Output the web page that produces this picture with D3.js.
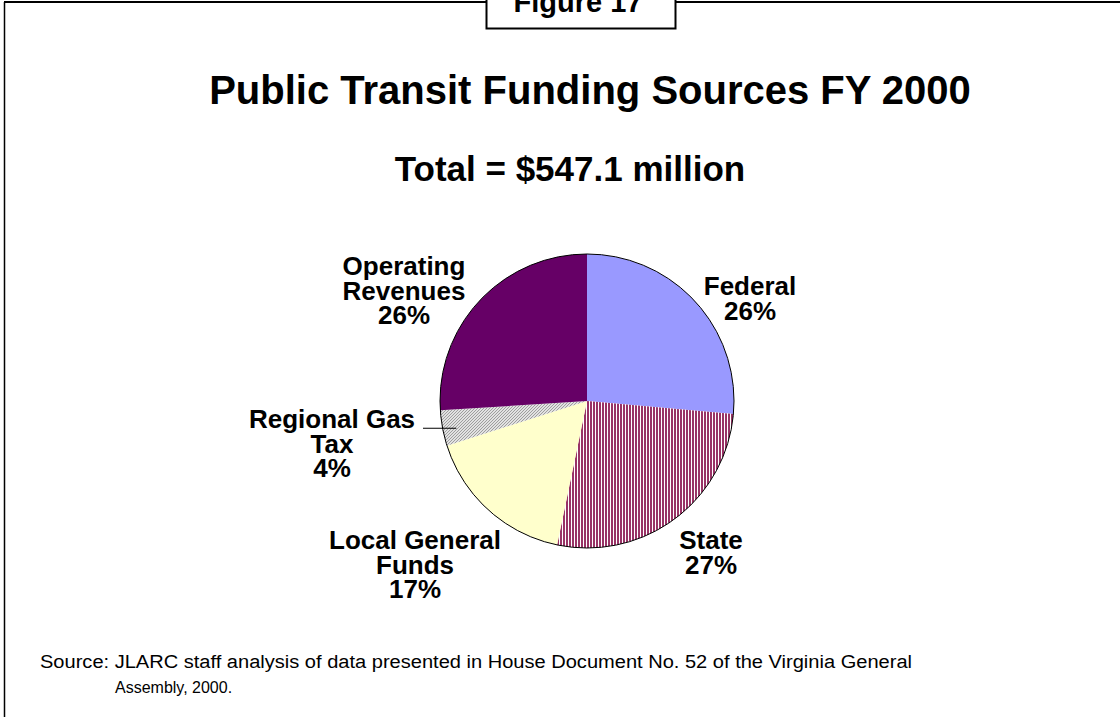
<!DOCTYPE html>
<html>
<head>
<meta charset="utf-8">
<script src="https://cdn.jsdelivr.net/npm/d3@7"></script>
<style>
  html, body { margin: 0; padding: 0; background: #fff; }
  svg { display: block; font-family: "Liberation Sans", Arial, sans-serif; }
</style>
</head>
<body>
<div id="chart"></div>
<script>
// ---------------------------
// DATA ($ millions)
// ---------------------------
const categories = ["Federal", "State", "Local General Funds", "Regional Gas Tax", "Operating Revenues"];
const amounts = [144.5, 146.9, 92.0, 21.4, 142.3];
const labelLines = [["Federal"], ["State"], ["Local General", "Funds"], ["Regional Gas", "Tax"], ["Operating", "Revenues"]];
const fills = ["#9999ff", "url(#stripe-state)", "#ffffcc", "url(#hatch-gas)", "#660066"];

// label anchor (centre x, first baseline y) - layout only
const labelAnchor = {
  "Federal": [750, 295],
  "State": [711, 549],
  "Local General Funds": [415, 549],
  "Regional Gas Tax": [332, 428],
  "Operating Revenues": [404, 275]
};

const width = 1120, height = 717;
const cx = 587, cy = 401, radius = 147;
const lineH = 24.5;

const svg = d3.select("#chart").append("svg")
  .attr("width", width)
  .attr("height", height);

// ---------------------------
// PATTERNS
// ---------------------------
const defs = svg.append("defs");

const stripe = defs.append("pattern")
  .attr("id", "stripe-state")
  .attr("patternUnits", "userSpaceOnUse")
  .attr("width", 3).attr("height", 3);
stripe.append("rect").attr("width", 3).attr("height", 3).attr("fill", "#fff");
stripe.append("rect").attr("width", 2).attr("height", 3).attr("fill", "#993366");

const hatch = defs.append("pattern")
  .attr("id", "hatch-gas")
  .attr("patternUnits", "userSpaceOnUse")
  .attr("width", 3).attr("height", 3);
hatch.append("rect").attr("width", 3).attr("height", 3).attr("fill", "#fff");
hatch.append("path").attr("d", "M0,3 L3,0 M-1,1 L1,-1 M2,4 L4,2")
  .attr("stroke", "#999").attr("stroke-width", 1.1);

// ---------------------------
// FRAME + FIGURE TAB
// ---------------------------
svg.append("line")
  .attr("x1", 4).attr("x2", width).attr("y1", 2).attr("y2", 2)
  .attr("stroke", "#000").attr("stroke-width", 2);
svg.append("line")
  .attr("x1", 4.5).attr("x2", 4.5).attr("y1", 2).attr("y2", height)
  .attr("stroke", "#000").attr("stroke-width", 1.5);

svg.append("rect")
  .attr("x", 486.5).attr("y", -10).attr("width", 189).attr("height", 38.5)
  .attr("fill", "#fff").attr("stroke", "#000").attr("stroke-width", 2);
svg.append("text")
  .attr("x", 578).attr("y", 12)
  .attr("text-anchor", "middle")
  .style("font-size", "29px").style("font-weight", "bold")
  .text("Figure 17");

// ---------------------------
// TITLES
// ---------------------------
svg.append("text")
  .attr("x", 590).attr("y", 104)
  .attr("text-anchor", "middle")
  .style("font-size", "40px").style("font-weight", "bold")
  .text("Public Transit Funding Sources FY 2000");

svg.append("text")
  .attr("x", 570).attr("y", 181)
  .attr("text-anchor", "middle")
  .style("font-size", "35px").style("font-weight", "bold")
  .text("Total = $547.1 million");

// ---------------------------
// PIE
// ---------------------------
const data = categories.map((c, i) => ({ category: c, amount: amounts[i], lines: labelLines[i], fill: fills[i] }));
const total = d3.sum(amounts);

const pie = d3.pie().sort(null).value(d => d.amount);
const arc = d3.arc().innerRadius(0).outerRadius(radius);

const g = svg.append("g").attr("transform", `translate(${cx},${cy})`);

g.selectAll("path.slice")
  .data(pie(data))
  .join("path")
  .attr("class", "slice")
  .attr("d", arc)
  .attr("fill", d => d.data.fill);

g.append("circle")
  .attr("r", radius)
  .attr("fill", "none")
  .attr("stroke", "#000")
  .attr("stroke-width", 1);

// leader line for the small slice
const gasArc = pie(data).find(d => d.data.category === "Regional Gas Tax");
const gasMid = (gasArc.startAngle + gasArc.endAngle) / 2;
const gasY = cy - radius * Math.cos(gasMid);
svg.append("line")
  .attr("x1", 423).attr("x2", cx + (radius - 14) * Math.sin(gasMid))
  .attr("y1", gasY).attr("y2", gasY)
  .attr("stroke", "#000").attr("stroke-width", 1.2);

// ---------------------------
// LABELS
// ---------------------------
const pct = d3.format(".0%");
data.forEach(d => {
  const [lx, ly] = labelAnchor[d.category];
  const t = svg.append("text")
    .attr("text-anchor", "middle")
    .style("font-size", "26px").style("font-weight", "bold");
  d.lines.concat([pct(d.amount / total)]).forEach((s, i) => {
    t.append("tspan").attr("x", lx).attr("y", ly + i * lineH).text(s);
  });
});

// ---------------------------
// SOURCE NOTE
// ---------------------------
svg.append("text")
  .attr("x", 40).attr("y", 668)
  .attr("textLength", 872)
  .attr("lengthAdjust", "spacingAndGlyphs")
  .style("font-size", "18px")
  .text("Source:  JLARC staff analysis of data presented in House Document No. 52 of the Virginia General");
svg.append("text")
  .attr("x", 115).attr("y", 693)
  .style("font-size", "16px")
  .text("Assembly, 2000.");
</script>
</body>
</html>
